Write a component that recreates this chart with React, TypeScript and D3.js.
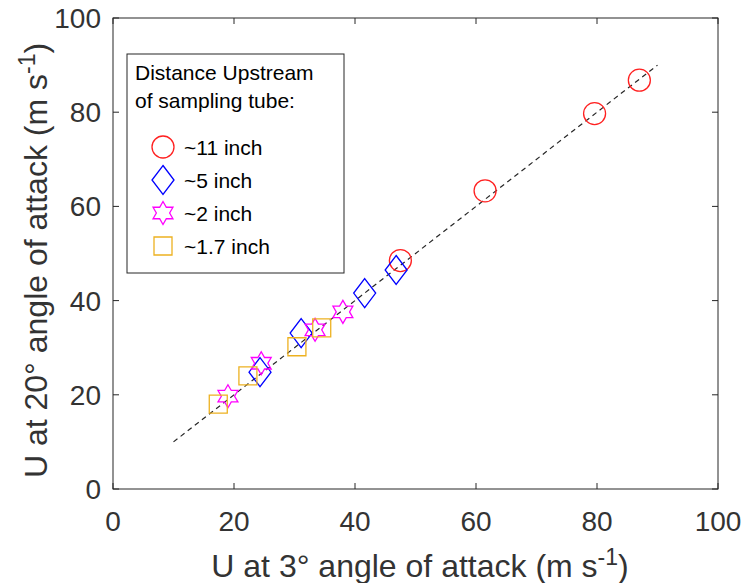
import React from 'react';
import * as d3 from 'd3';

// U at 3° (x) vs U at 20° (y), m/s
const circleX = [47.5, 61.5, 79.6, 87];
const circleY = [48.5, 63.3, 79.7, 86.8];
const diamondX = [24.3, 31.1, 41.6, 46.8];
const diamondY = [24.8, 33.1, 41.6, 46.5];
const starX = [19, 24.5, 33.4, 38];
const starY = [19.7, 26.7, 33.8, 37.6];
const squareX = [17.4, 22.3, 30.4, 34.5];
const squareY = [18, 24, 30.2, 34.2];
const ticks = [0, 20, 40, 60, 80, 100];
const fitLine = [10, 90];
const legendLabels = ['~11 inch', '~5 inch', '~2 inch', '~1.7 inch'];

const W = 742;
const H = 583;
const FONT = "'Liberation Sans', Arial, Helvetica, sans-serif";
const AX = '#262626';
const TXT = '#333333';

const x = d3.scaleLinear().domain([0, 100]).range([113, 718]);
const y = d3.scaleLinear().domain([0, 100]).range([489, 18]);

// marker shapes, centred on 0,0
const circlePath = (d3.symbol().type(d3.symbolCircle).size(Math.PI * 11 * 11)() as string);
const diamondPath = 'M0,-14.5L11,0L0,14.5L-11,0Z';
const squarePath = 'M-9,-9H9V9H-9Z';
const starPath = (() => {
  const R = 11.5;
  const r = R / Math.sqrt(3);
  const pts: [number, number][] = [];
  for (let i = 0; i < 12; i++) {
    const a = -Math.PI / 2 + (i * Math.PI) / 6;
    const rad = i % 2 === 0 ? R : r;
    pts.push([rad * Math.cos(a), rad * Math.sin(a)]);
  }
  return (d3.line()(pts) as string) + 'Z';
})();

const series = [
  { xs: circleX, ys: circleY, path: circlePath, color: '#ff2020' },
  { xs: diamondX, ys: diamondY, path: diamondPath, color: '#0000ff' },
  { xs: starX, ys: starY, path: starPath, color: '#ff00ff' },
  { xs: squareX, ys: squareY, path: squarePath, color: '#EDB120' },
];

export default function App() {
  const [x0, x1] = x.range();
  const [y0, y1] = y.range();
  return (
    <div style={{ position: 'absolute', left: 0, top: 0 }}>
      <svg width={W} height={H} style={{ display: 'block', background: '#fff' }} fontFamily={FONT}>
        {/* dashed 1:1 line */}
        <line
          x1={x(fitLine[0])} y1={y(fitLine[0])} x2={x(fitLine[1])} y2={y(fitLine[1])}
          stroke={AX} strokeWidth={1.2} strokeDasharray="5,4"
        />

        {/* markers */}
        {series.map((s, si) => (
          <g key={si} fill="none" stroke={s.color} strokeWidth={1.3}>
            {s.xs.map((v, i) => (
              <path key={i} d={s.path} transform={`translate(${x(v)},${y(s.ys[i])})`} />
            ))}
          </g>
        ))}

        {/* box + ticks */}
        <rect x={x0} y={y1} width={x1 - x0} height={y0 - y1} fill="none" stroke={AX} strokeWidth={1} />
        {ticks.map(t => (
          <g key={t} stroke={AX} strokeWidth={1}>
            <line x1={x(t)} x2={x(t)} y1={y0} y2={y0 - 6} />
            <line x1={x(t)} x2={x(t)} y1={y1} y2={y1 + 6} />
            <line x1={x0} x2={x0 + 6} y1={y(t)} y2={y(t)} />
            <line x1={x1} x2={x1 - 6} y1={y(t)} y2={y(t)} />
          </g>
        ))}
        {ticks.map(t => (
          <text key={'xt' + t} x={x(t)} y={y0 + 42} textAnchor="middle" fontSize={28} fill={TXT}>{t}</text>
        ))}
        {ticks.map(t => (
          <text key={'yt' + t} x={x0 - 12} y={y(t) + 10} textAnchor="end" fontSize={28} fill={TXT}>{t}</text>
        ))}

        {/* axis labels */}
        <text x={420} y={577} textAnchor="middle" fontSize={32} fill={TXT}>
          U at 3° angle of attack (m s<tspan dy={-12} fontSize={23}>-1</tspan><tspan dy={12}>)</tspan>
        </text>
        <text transform={`translate(47,${(y0 + y1) / 2 + 7}) rotate(-90)`} textAnchor="middle" fontSize={32} fill={TXT}>
          U at 20° angle of attack (m s<tspan dy={-12} fontSize={23}>-1</tspan><tspan dy={12}>)</tspan>
        </text>

        {/* legend */}
        <g>
          <rect x={127} y={54} width={217} height={219} fill="#fff" stroke={AX} strokeWidth={1} />
          <text x={135} y={80} fontSize={21} fill="#000">Distance Upstream</text>
          <text x={135} y={108} fontSize={21} fill="#000">of sampling tube:</text>
          {series.map((s, i) => (
            <g key={i}>
              <path d={s.path} transform={`translate(163,${147 + i * 33})`} fill="none" stroke={s.color} strokeWidth={1.3} />
              <text x={184} y={155 + i * 33} fontSize={21} fill="#000">{legendLabels[i]}</text>
            </g>
          ))}
        </g>
      </svg>
    </div>
  );
}
